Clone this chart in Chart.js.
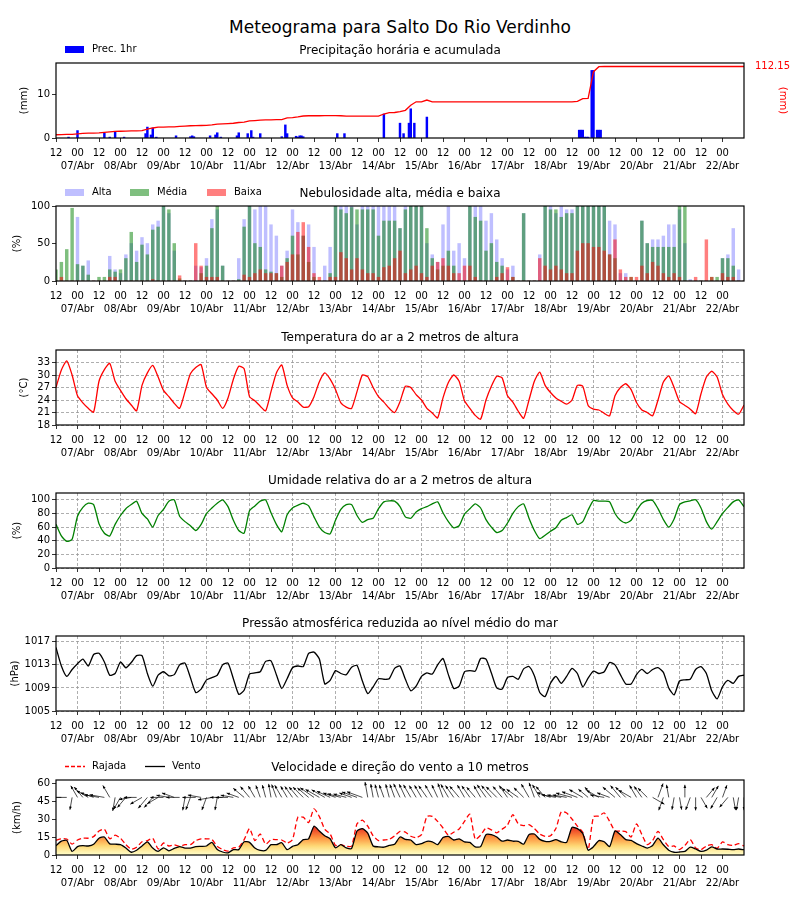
<!DOCTYPE html>
<html lang="pt">
<head>
<meta charset="utf-8">
<title>Meteograma</title>
<script src="https://cdn.jsdelivr.net/npm/chart.js@4.4.1/dist/chart.umd.min.js"></script>
<style>
  body { margin: 0; background: #fff; font-family: "DejaVu Sans", sans-serif; }
  #pagina { position: relative; width: 800px; height: 900px; }
  #titulo { position: absolute; top: 17px; left: 0; width: 800px; text-align: center; font-size: 17px; line-height: 20px; color: #000; }
  canvas { position: absolute; left: 0; }
</style>
</head>
<body>
<div id="pagina">
  <div id="titulo">Meteograma para Salto Do Rio Verdinho</div>
  <canvas id="chartPrec" width="800" height="143" style="top:28px"></canvas>
  <canvas id="chartNuvens" width="800" height="143" style="top:171px"></canvas>
  <canvas id="chartTemp" width="800" height="143" style="top:315px"></canvas>
  <canvas id="chartUmid" width="800" height="143" style="top:458px"></canvas>
  <canvas id="chartPressao" width="800" height="143" style="top:601px"></canvas>
  <canvas id="chartVento" width="800" height="143" style="top:745px"></canvas>
</div>
<script>
// === Dados (horas desde 06/Abr 12h, a cada 3h) ===
const horas = [0,3,6,9,12,15,18,21,24,27,30,33,36,39,42,45,48,51,54,57,60,63,66,69,72,75,78,81,84,87,90,93,96,99,102,105,108,111,114,117,120,123,126,129,132,135,138,141,144,147,150,153,156,159,162,165,168,171,174,177,180,183,186,189,192,195,198,201,204,207,210,213,216,219,222,225,228,231,234,237,240,243,246,249,252,255,258,261,264,267,270,273,276,279,282,285,288,291,294,297,300,303,306,309,312,315,318,321,324,327,330,333,336,339,342,345,348,351,354,357,360,363,366,369,372,375,378,381,384];
const marcasHoras = [0,12,24,36,48,60,72,84,96,108,120,132,144,156,168,180,192,204,216,228,240,252,264,276,288,300,312,324,336,348,360,372];
const dias = ['07/Abr','08/Abr','09/Abr','10/Abr','11/Abr','12/Abr','13/Abr','14/Abr','15/Abr','16/Abr','17/Abr','18/Abr','19/Abr','20/Abr','21/Abr','22/Abr'];

// Precipitação horária (hora, mm)
const precHoras = [7,12,27,30,33,38,50,51,53,54,56,67,75,76,77,86,89,90,92,101,102,107,109,110,114,126,128,129,134,135,136,137,138,157,161,183,192,194,197,198,200,207,292,293,294,295,296,297,299,300,302,303,304];
const precValores = [0.2,1.7,1.1,0.2,1.3,0.2,1.0,2.5,0.7,2.3,0.2,0.5,0.3,0.5,0.3,0.5,0.7,1.2,0.2,0.5,1.2,1.0,1.7,0.2,1.0,0.3,3.0,1.0,0.4,0.2,0.5,0.5,0.3,1.0,1.0,5.5,3.4,1.0,3.4,6.7,3.4,4.8,1.8,1.8,1.8,0.2,0.2,0.2,15.5,15.5,1.8,1.8,1.8];
// Precipitação acumulada (mm, eixo direito)
const precAcum = [5.1,5.3,5.6,5.8,6.5,7.3,7.5,7.7, 7.9,8.9,9.6,10.3,10.6,10.9,11.1,11.3, 11.5,14.0,15.7,17.1,17.2,17.4,17.6,18.1, 18.6,19.2,19.3,19.6,19.8,20.5,21.9,22.2,
  22.6,23.1,24.3,25.0,26.7,27.4,28.0,28.4, 28.5,28.7,28.9,31.5,32.1,33.2,34.5,34.9, 34.9,34.9,35.0,35.1,35.2,34.9,34.2,34.2, 34.2,34.2,34.2,34.2,34.2,37.6,39.7,40.0,
  41.4,43.4,51.3,56.8,56.8,59.5,56.8,56.8, 56.8,56.8,56.8,56.8,56.8,56.8,56.8,56.8, 56.8,56.8,56.8,56.8,56.8,56.8,56.8,56.8, 56.8,56.8,56.8,56.8,56.8,56.8,56.8,56.8,
  56.8,57.5,61.6,62.2,104.0,111.8,112.15,112.15, 112.15,112.15,112.15,112.15,112.15,112.15,112.15,112.15, 112.15,112.15,112.15,112.15,112.15,112.15,112.15,112.15, 112.15,112.15,112.15,112.15,112.15,112.15,112.15,112.15, 112.15];

// Nebulosidade (%)
const nuvAlta = [0,0,0,0,85,20,27,0, 0,0,33,15,10,35,50,40, 58,50,75,80,100,90,40,0, 0,0,20,18,30,82,95,20,
  0,0,30,82,100,95,100,100, 75,60,20,40,95,78,60,75, 45,0,20,45,100,100,100,100, 75,100,100,100,100,100,100,100,
  70,100,100,100,100,50,35,25, 75,100,40,50,30,100,100,100, 80,90,55,30,15,20,0,90, 0,0,35,100,100,90,100,95,
  95,100,100,100,100,100,100,80, 75,10,10,0,0,80,50,55, 55,60,75,75,95,50,2,0, 0,0,0,0,30,35,70,15, 0];
const nuvMedia = [15,25,42,97,22,20,8,0, 5,5,15,12,15,30,65,25, 48,35,68,72,100,95,50,3, 0,0,0,10,20,70,100,20,
  0,0,2,72,100,50,45,15, 12,10,5,30,60,35,60,25, 5,0,0,10,100,95,90,98, 95,95,95,95,60,80,80,80,
  70,95,100,100,100,70,30,15, 20,40,20,0,0,100,85,80, 40,50,25,20,0,5,0,90, 0,0,0,100,95,95,85,90,
  90,100,100,100,100,100,100,35, 30,0,0,5,0,80,50,45, 45,45,45,45,100,100,0,0, 0,0,5,5,30,30,20,0, 0];
const nuvBaixa = [0,5,0,0,0,0,0,0, 0,0,5,5,0,0,0,0, 0,0,2,0,0,0,0,7, 0,0,50,20,5,5,5,0,
  0,0,0,8,5,10,15,10, 10,10,20,25,35,65,78,45, 10,5,0,5,5,38,30,15, 30,15,10,10,5,18,20,30,
  40,10,15,20,10,5,20,25, 30,20,10,10,20,20,5,0, 0,0,5,10,18,5,0,0, 0,0,30,20,15,20,15,10,
  10,40,50,50,45,45,40,35, 55,15,5,5,5,20,10,25, 20,10,5,10,5,0,0,5, 0,55,5,0,10,5,5,0, 0];

// Temperatura (°C)
const temperatura = [27.0,31.2,33.4,30.0,25.0,23.3,22.0,21.1, 28.5,31.3,32.8,28.5,26.3,24.3,22.8,21.4, 27.5,30.5,32.3,29.5,26.3,24.8,23.2,22.0, 26.0,30.3,31.8,32.5,27.0,25.5,24.0,22.0,
  24.5,29.0,32.1,31.5,24.8,23.8,22.5,21.4, 26.0,30.5,32.4,27.5,24.5,23.5,22.3,22.4, 24.8,28.4,30.5,29.0,26.5,23.3,22.3,22.0, 26.0,30.0,29.6,27.0,24.8,23.5,22.0,21.0,
  23.6,27.3,27.0,25.3,24.0,22.0,20.9,19.7, 24.5,28.2,30.0,28.5,23.8,22.0,20.3,19.4, 24.0,27.3,29.7,29.3,25.0,23.5,21.3,19.6, 24.0,28.5,30.7,27.5,25.8,24.5,23.7,23.0,
  24.0,27.5,27.3,22.7,21.8,21.6,20.8,20.2, 25.0,27.0,27.9,26.5,23.4,21.6,21.0,20.2, 24.0,28.3,29.8,27.0,23.6,22.7,21.8,20.7, 25.5,29.5,30.9,29.5,25.3,23.0,21.5,20.6, 22.8];

// Umidade relativa (%)
const umidade = [64,47,39,42,76,89,95,93, 65,51,47,64,77,87,93,98, 80,72,60,77,86,98,100,76, 68,62,55,64,80,88,95,100,
  90,70,55,51,84,91,98,100, 81,64,53,78,88,92,95,91, 75,60,52,50,70,86,93,93, 77,67,71,73,87,97,98.5,98,
  90,75,73,82,87,90,94,97, 81,68,59,62,79,87,94,88, 71,60,52,55,66,80,90,94, 73,55,43,48,54,59,70,74,
  78,64,68,85,99,98,98,97, 80,70,66,70,84,95,99,99, 87,71,60,72,93,97,98.5,100, 88,68,57,68,80,89,97,100, 90];

// Pressão ao nível do mar (hPa)
const pressao = [1016.0,1012.8,1011.0,1012.2,1013.2,1014.0,1012.8,1014.8, 1015.0,1013.5,1011.2,1011.5,1013.5,1012.5,1013.4,1014.6, 1014.6,1011.5,1009.3,1011.2,1011.8,1011.1,1011.3,1013.0, 1013.3,1010.8,1008.2,1008.8,1010.4,1010.8,1011.2,1013.0,
  1013.3,1010.6,1007.9,1008.6,1011.4,1011.6,1011.8,1013.6, 1013.7,1011.3,1008.9,1010.6,1012.5,1012.8,1012.7,1015.0, 1015.2,1014.0,1009.7,1010.3,1012.0,1011.5,1011.3,1012.6, 1012.9,1010.2,1008.0,1009.2,1010.6,1010.5,1010.6,1012.4,
  1012.8,1010.5,1008.5,1009.3,1011.0,1011.6,1011.4,1013.0, 1014.1,1011.3,1008.9,1009.3,1011.8,1012.0,1011.9,1014.1, 1014.0,1011.6,1009.0,1008.8,1010.8,1011.0,1010.5,1012.3, 1012.7,1011.1,1008.2,1007.5,1009.8,1011.0,1009.8,1011.0,
  1012.4,1011.5,1009.2,1010.7,1011.9,1011.5,1011.8,1013.4, 1013.0,1011.3,1009.7,1009.7,1011.3,1012.2,1011.5,1012.2, 1012.5,1011.7,1009.0,1007.8,1010.2,1010.4,1010.5,1012.2, 1012.7,1011.5,1008.5,1007.1,1009.2,1010.3,1009.8,1011.0, 1011.2];

// Vento e rajada (km/h), direção de onde sopra (graus)
const vento = [7.8,11.5,12.2,3.0,7.0,7.8,7.5,9.0, 14.0,15.0,9.3,9.0,8.6,5.8,2.3,4.0, 7.5,11.0,5.8,3.0,6.0,3.5,5.5,7.0, 5.8,5.8,7.0,7.2,7.5,10.5,4.6,2.5,
  1.8,4.5,4.5,11.0,10.5,5.8,3.8,3.8, 8.6,8.6,10.2,4.4,7.2,8.5,12.8,13.5, 24.0,20.0,16.0,13.5,6.0,8.6,6.0,5.5, 20.0,22.0,18.3,7.5,6.8,6.5,8.0,9.0,
  15.0,13.0,12.5,8.6,9.5,11.4,11.0,8.6, 14.5,15.5,12.5,13.5,11.0,10.5,6.7,7.0, 17.0,17.0,15.0,11.5,12.5,11.5,11.4,9.0, 17.0,17.5,13.0,11.4,11.4,12.8,11.0,10.5,
  23.0,22.0,18.0,4.0,7.0,12.0,11.0,7.0, 20.0,17.0,12.8,12.2,9.5,7.5,5.8,8.0, 14.0,8.5,4.0,2.3,2.5,3.0,6.5,5.0, 3.0,4.0,6.7,5.0,5.0,4.8,4.5,5.0, 4.4];
const rajada = [12.2,13.5,13.3,9.0,12.5,14.0,14.0,15.3, 20.0,21.5,13.5,16.5,14.0,8.6,4.8,6.5, 11.0,12.0,14.0,5.0,10.0,7.5,8.5,7.2, 8.6,8.6,12.0,13.5,13.5,13.0,7.2,4.5,
  3.2,6.0,6.5,12.8,22.0,12.0,17.5,9.0, 12.8,12.8,12.5,10.0,12.8,31.5,31.5,27.0, 38.5,32.0,21.5,17.5,8.0,8.6,7.2,7.5, 26.0,29.0,24.0,16.0,12.0,12.5,13.0,16.0,
  19.7,19.0,15.6,14.5,17.0,32.0,32.2,28.0, 22.5,16.5,19.0,21.7,28.0,34.0,13.0,16.5, 22.5,21.0,18.5,21.5,25.0,33.6,26.0,24.5, 25.3,22.0,17.5,15.6,16.0,22.0,36.0,35.0,
  30.0,24.0,19.0,4.5,32.0,32.5,35.0,28.0, 20.0,20.0,19.5,15.0,26.0,17.0,8.6,12.0, 19.7,12.8,7.0,7.5,4.5,8.0,12.8,5.8, 4.4,7.5,8.6,5.5,11.0,8.6,8.0,9.5, 7.5];
const ventoDir = [90,90,90,10,150,140,120,110, 100,100,150,10,30,40,80,90, 60,40,40,60,90,100,110,90, 10,20,90,100,20,80,10,90,
  90,100,110,130,140,150,160,165, 170,160,150,150,145,140,135,130, 125,120,120,115,110,105,105,110, 110,110,170,170,165,160,165,160,
  155,155,150,150,150,145,150,155, 160,150,145,140,150,145,140,150, 145,140,135,140,145,130,125,135, 150,160,150,140,110,100,100,100,
  105,110,120,130,140,120,100,110, 130,140,135,120,150,145,135,300, 200,20,170,10,350,180,20,0, 330,220,210,30,200,40,350,10, 0];

// === Estilo comum ===
Chart.defaults.font.family = 'DejaVu Sans';
Chart.defaults.color = '#000';

function eixoX(grade) {
  return {
    type: 'linear', min: 0, max: 384, offset: false,
    afterBuildTicks: s => { s.ticks = marcasHoras.map(v => ({value: v})); },
    afterFit: s => { s.height = 33; },
    ticks: {
      autoSkip: false, maxRotation: 0, padding: 5, color: '#000',
      font: {size: 10, lineHeight: 1.3},
      callback: v => v % 24 === 0 ? '12' : ['00', dias[(v - 12) / 24]]
    },
    grid: {
      offset: false, drawOnChartArea: grade, tickLength: 4, tickColor: '#000', lineWidth: 0.8,
      color: c => (c.tick && c.tick.value % 24 === 12) ? '#999' : 'rgba(0,0,0,0)'
    },
    border: {display: false, dash: [3, 2]}
  };
}

function eixoY(min, max, marcas, titulo, pad, grade) {
  return {
    min: min, max: max,
    afterBuildTicks: s => { s.ticks = marcas.map(v => ({value: v})); },
    afterFit: s => { s.width = 56; },
    ticks: {padding: 2, color: '#000', font: {size: 10}, callback: v => String(v)},
    title: {display: true, text: titulo, color: '#000', font: {size: 10}, padding: {top: pad}},
    grid: {drawOnChartArea: grade, tickLength: 4, tickColor: '#000', color: '#999', lineWidth: 0.8},
    border: {display: false, dash: [3, 2]}
  };
}

function opcoes(scales, direita) {
  return {
    responsive: false, animation: false,
    layout: {padding: {top: 35, left: 0, right: direita, bottom: 0}},
    plugins: {legend: {display: false}, tooltip: {enabled: false}},
    scales: scales
  };
}

// título do painel, legenda e moldura
function painel(titulo, legenda) {
  return {
    id: 'painel',
    afterDraw(chart) {
      const {ctx, chartArea: a} = chart;
      ctx.save();
      ctx.strokeStyle = '#000';
      ctx.lineWidth = 1.2;
      ctx.strokeRect(a.left, a.top, a.right - a.left, a.bottom - a.top);
      ctx.fillStyle = '#000';
      ctx.font = '12px "DejaVu Sans"';
      ctx.textAlign = 'center';
      ctx.textBaseline = 'middle';
      ctx.fillText(titulo, 400, a.top - 12);
      ctx.font = '10px "DejaVu Sans"';
      ctx.textAlign = 'left';
      const yc = a.top - 13.5;
      legenda.forEach(item => {
        if (item.tipo === 'caixa') {
          ctx.fillStyle = item.cor;
          ctx.fillRect(item.x, yc - 3.5, 19, 7);
        } else {
          ctx.strokeStyle = item.cor;
          ctx.lineWidth = 1.3;
          ctx.setLineDash(item.tracejado ? [4, 2] : []);
          ctx.beginPath();
          ctx.moveTo(item.x, yc);
          ctx.lineTo(item.x + 20, yc);
          ctx.stroke();
          ctx.setLineDash([]);
        }
        ctx.fillStyle = '#000';
        ctx.fillText(item.texto, item.x + 27, yc);
      });
      ctx.restore();
    }
  };
}

const pontos = serie => horas.map((h, i) => ({x: h, y: serie[i]}));

// === Precipitação ===
new Chart(document.getElementById('chartPrec'), {
  type: 'bar',
  data: {
    datasets: [{
      type: 'bar',
      data: precHoras.map((h, i) => ({x: h, y: precValores[i]})),
      backgroundColor: '#0000ff',
      barThickness: 1.8,
      yAxisID: 'y',
      order: 2
    }, {
      type: 'line',
      data: pontos(precAcum),
      borderColor: '#ff0000',
      borderWidth: 1.3,
      pointRadius: 0,
      yAxisID: 'y2',
      order: 1
    }]
  },
  options: opcoes({
    x: eixoX(false),
    y: eixoY(0, 17.2, [0, 10], '(mm)', 18, false),
    y2: {
      position: 'right', min: 0, max: 117.6,
      afterBuildTicks: s => { s.ticks = [{value: 112.15}]; },
      afterFit: s => { s.width = 56; },
      ticks: {padding: 3, color: '#ff0000', font: {size: 10}, callback: v => v.toFixed(2)},
      title: {display: true, text: '(mm)', color: '#ff0000', font: {size: 10}, padding: {top: 11}},
      grid: {display: false},
      border: {display: false}
    }
  }, 0),
  plugins: [painel('Precipitação horária e acumulada', [
    {tipo: 'caixa', cor: '#0000ff', texto: 'Prec. 1hr', x: 65}
  ])]
});

// === Nebulosidade ===
new Chart(document.getElementById('chartNuvens'), {
  type: 'bar',
  data: {
    datasets: [
      {label: 'Alta', data: pontos(nuvAlta), backgroundColor: 'rgba(0,0,255,0.25)', barThickness: 2.8, grouped: false, order: 3},
      {label: 'Média', data: pontos(nuvMedia), backgroundColor: 'rgba(0,128,0,0.5)', barThickness: 2.8, grouped: false, order: 2},
      {label: 'Baixa', data: pontos(nuvBaixa), backgroundColor: 'rgba(255,0,0,0.5)', barThickness: 2.8, grouped: false, order: 1}
    ]
  },
  options: opcoes({x: eixoX(false), y: eixoY(0, 100, [0, 50, 100], '(%)', 11, false)}, 56),
  plugins: [painel('Nebulosidade alta, média e baixa', [
    {tipo: 'caixa', cor: 'rgba(0,0,255,0.25)', texto: 'Alta', x: 65},
    {tipo: 'caixa', cor: 'rgba(0,128,0,0.5)', texto: 'Média', x: 130},
    {tipo: 'caixa', cor: 'rgba(255,0,0,0.5)', texto: 'Baixa', x: 207}
  ])]
});

// === Temperatura ===
new Chart(document.getElementById('chartTemp'), {
  type: 'line',
  data: {datasets: [{data: pontos(temperatura), borderColor: '#ff0000', borderWidth: 1.3, pointRadius: 0, tension: 0.2}]},
  options: opcoes({x: eixoX(true), y: eixoY(18, 36, [18, 21, 24, 27, 30, 33], '(°C)', 18, true)}, 56),
  plugins: [painel('Temperatura do ar a 2 metros de altura', [])]
});

// === Umidade ===
new Chart(document.getElementById('chartUmid'), {
  type: 'line',
  data: {datasets: [{data: pontos(umidade), borderColor: '#008000', borderWidth: 1.3, pointRadius: 0, tension: 0.2}]},
  options: opcoes({x: eixoX(true), y: eixoY(0, 110, [0, 20, 40, 60, 80, 100], '(%)', 11, true)}, 56),
  plugins: [painel('Umidade relativa do ar a 2 metros de altura', [])]
});

// === Pressão ===
new Chart(document.getElementById('chartPressao'), {
  type: 'line',
  data: {datasets: [{data: pontos(pressao), borderColor: '#000', borderWidth: 1.3, pointRadius: 0, tension: 0.2}]},
  options: opcoes({x: eixoX(true), y: eixoY(1005, 1018, [1005, 1009, 1013, 1017], '(hPa)', 9, true)}, 56),
  plugins: [painel('Pressão atmosférica reduzida ao nível médio do mar', [])]
});

// === Vento ===
const setas = {
  id: 'setas',
  afterDatasetsDraw(chart) {
    const {ctx, chartArea: a, scales: {x, y}} = chart;
    ctx.save();
    ctx.beginPath();
    ctx.rect(a.left, a.top, a.right - a.left, a.bottom - a.top);
    ctx.clip();
    ctx.strokeStyle = '#000';
    ctx.fillStyle = '#000';
    ctx.lineWidth = 0.7;
    horas.forEach((h, i) => {
      const px = x.getPixelForValue(h), py = y.getPixelForValue(48);
      const rad = ventoDir[i] * Math.PI / 180;
      const len = 12 + 0.2 * vento[i];
      const ex = px - Math.sin(rad) * len, ey = py + Math.cos(rad) * len;
      const ang = Math.atan2(ey - py, ex - px);
      ctx.beginPath();
      ctx.moveTo(px, py);
      ctx.lineTo(ex, ey);
      ctx.stroke();
      ctx.beginPath();
      ctx.moveTo(ex, ey);
      ctx.lineTo(ex - 3.5 * Math.cos(ang - 0.4), ey - 3.5 * Math.sin(ang - 0.4));
      ctx.lineTo(ex - 3.5 * Math.cos(ang + 0.4), ey - 3.5 * Math.sin(ang + 0.4));
      ctx.closePath();
      ctx.fill();
    });
    ctx.restore();
  }
};

new Chart(document.getElementById('chartVento'), {
  type: 'line',
  data: {
    datasets: [{
      label: 'Vento',
      data: pontos(vento),
      borderColor: '#000',
      borderWidth: 1.3,
      pointRadius: 0,
      tension: 0.2,
      fill: 'origin',
      backgroundColor: c => {
        const {ctx, chartArea, scales} = c.chart;
        if (!chartArea) return 'rgba(0,0,0,0)';
        const g = ctx.createLinearGradient(0, scales.y.getPixelForValue(0), 0, scales.y.getPixelForValue(25));
        g.addColorStop(0, '#ffffcc');
        g.addColorStop(0.3, '#fed976');
        g.addColorStop(0.6, '#fd8d3c');
        g.addColorStop(1, '#e31a1c');
        return g;
      }
    }, {
      label: 'Rajada',
      data: pontos(rajada),
      borderColor: '#ff0000',
      borderWidth: 1.3,
      borderDash: [5, 3],
      pointRadius: 0,
      tension: 0.2,
      fill: false
    }]
  },
  options: opcoes({x: eixoX(false), y: eixoY(0, 62.5, [0, 15, 30, 45, 60], '(km/h)', 11, false)}, 56),
  plugins: [setas, painel('Velocidade e direção do vento a 10 metros', [
    {tipo: 'linha', cor: '#ff0000', tracejado: true, texto: 'Rajada', x: 65},
    {tipo: 'linha', cor: '#000', texto: 'Vento', x: 145}
  ])]
});
</script>
</body>
</html>
